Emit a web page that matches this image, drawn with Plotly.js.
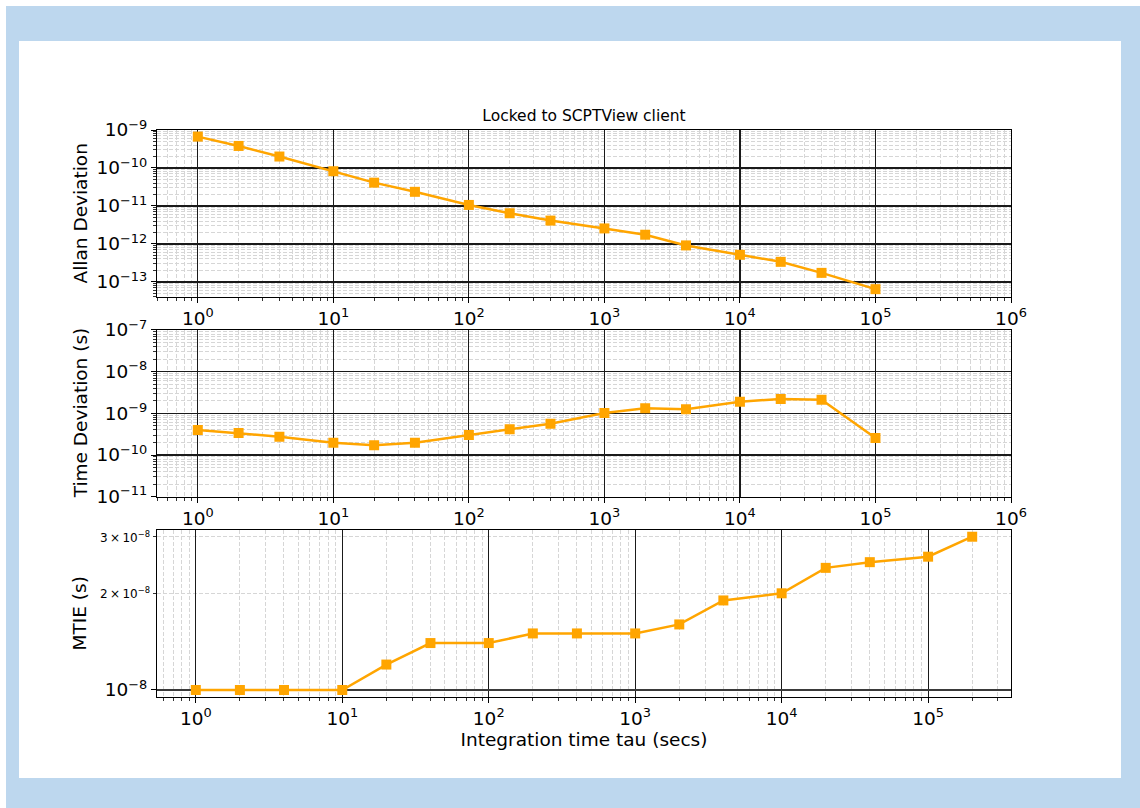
<!DOCTYPE html>
<html>
<head>
<meta charset="utf-8">
<script src="https://cdn.plot.ly/plotly-3.0.1.min.js"></script>
<style>
  html, body { margin: 0; padding: 0; background: #ffffff; width: 1140px; height: 808px; overflow: hidden; }
  #frame { position: absolute; left: 6px; top: 6px; width: 1134px; height: 802px; background: #bdd7ee; }
  #card { position: absolute; left: 19px; top: 41px; width: 1102px; height: 737px; background: #ffffff; }
  #chart { position: absolute; left: 0; top: 0; width: 1140px; height: 808px; }
</style>
</head>
<body>
<div id="frame"></div>
<div id="card"></div>
<div id="chart"></div>
<script>
// ---- data ----
const tau = [1, 2, 4, 10, 20, 40, 100, 200, 400, 1000, 2000, 4000, 10000, 20000, 40000, 100000];
const adev = [6.7e-10, 3.8e-10, 2.0e-10, 8.2e-11, 4.1e-11, 2.35e-11, 1.06e-11, 6.4e-12, 4.1e-12, 2.55e-12, 1.74e-12, 9.1e-13, 5.15e-13, 3.36e-13, 1.72e-13, 6.4e-14];
const tdev = [4.0e-10, 3.37e-10, 2.75e-10, 1.98e-10, 1.71e-10, 1.98e-10, 3.0e-10, 4.13e-10, 5.65e-10, 1.02e-9, 1.32e-9, 1.25e-9, 1.9e-9, 2.21e-9, 2.13e-9, 2.56e-10];
const mtieTau = [1, 2, 4, 10, 20, 40, 100, 200, 400, 1000, 2000, 4000, 10000, 20000, 40000, 100000, 200000];
const mtie = [1.0e-8, 1.0e-8, 1.0e-8, 1.0e-8, 1.2e-8, 1.4e-8, 1.4e-8, 1.5e-8, 1.5e-8, 1.5e-8, 1.6e-8, 1.9e-8, 2.0e-8, 2.4e-8, 2.5e-8, 2.6e-8, 3.0e-8];

// tick labels
const xExpTop = [0, 1, 2, 3, 4, 5, 6];
const xExpBottom = [0, 1, 2, 3, 4, 5];
const yExpAdev = [-13, -12, -11, -10, -9];
const yExpTdev = [-11, -10, -9, -8, -7];
const yExpMtie = [-8];
const mtieMinorMantissa = [2, 3];
const mtieMinorExp = -8;

const titleText = 'Locked to SCPTView client';
const yTitles = ['Allan Deviation', 'Time Deviation (s)', 'MTIE (s)'];
const xTitle = 'Integration time tau (secs)';

// ---- helpers ----
const MINUS = '\u2212';
function powLabel(e) { return '10<sup>' + (e < 0 ? MINUS + Math.abs(e) : e) + '</sup>'; }
function decadeVals(exps) { return exps.map(e => Math.pow(10, e)); }
function minorVals(lo, hi) {
  const out = [];
  for (let e = Math.floor(lo) - 1; e <= Math.ceil(hi); e++) {
    for (let d = 2; d <= 9; d++) {
      const v = d * Math.pow(10, e);
      const lv = Math.log10(v);
      if (lv >= lo && lv <= hi) out.push(v);
    }
  }
  return out;
}

const FONT = 'DejaVu Sans, Verdana, sans-serif';
const ORANGE = '#FFA500';
const MAJOR_GRID = '#1a1a1a';
const MINOR_GRID = '#d6d6d6';
const TICK_SIZE = 18.5;
const LABEL_SIZE = 18.5;

const xRangeTop = [Math.log10(0.5), 6];
const xRangeBot = [-0.265, 5.566];
const yRangeAdev = [-13.4, -9.0];
const yRangeTdev = [-11, -7];
const yRangeMtie = [-8.0218, -7.502];
const domAdev = [0.7055, 1];
const domTdev = [0.3533, 0.6473];
const domMtie = [0, 0.2945];

function minorSpec(range) {
  return {
    tickmode: 'array', tickvals: minorVals(range[0], range[1]),
    ticks: 'outside', ticklen: 3, tickwidth: 0.8, tickcolor: '#000',
    showgrid: true, gridcolor: MINOR_GRID, gridwidth: 1, griddash: '4px,2px'
  };
}
function xAxis(range, exps, anchor) {
  return {
    type: 'log', range: range, anchor: anchor,
    tickmode: 'array', tickvals: decadeVals(exps), ticktext: exps.map(powLabel),
    tickfont: { family: FONT, size: TICK_SIZE, color: '#000' },
    ticks: 'outside', ticklen: 5, tickwidth: 1, tickcolor: '#000',
    showline: true, linecolor: '#000', linewidth: 1, mirror: true,
    showgrid: true, gridcolor: MAJOR_GRID, gridwidth: 1.2,
    zeroline: false,
    minor: minorSpec(range)
  };
}
function yAxisLog(range, exps, domain, anchor) {
  return {
    type: 'log', range: range, domain: domain, anchor: anchor,
    tickmode: 'array', tickvals: decadeVals(exps), ticktext: exps.map(powLabel),
    tickfont: { family: FONT, size: TICK_SIZE, color: '#000' },
    ticks: 'outside', ticklen: 5, tickwidth: 1, tickcolor: '#000',
    showline: true, linecolor: '#000', linewidth: 1, mirror: true,
    showgrid: true, gridcolor: MAJOR_GRID, gridwidth: 1.5,
    zeroline: false,
    minor: minorSpec(range)
  };
}

const traceStyle = {
  type: 'scatter', mode: 'lines+markers',
  line: { color: ORANGE, width: 2.5 },
  marker: { symbol: 'square', size: 10, color: ORANGE },
  showlegend: false, hoverinfo: 'x+y'
};

const data = [
  Object.assign({}, traceStyle, { x: tau, y: adev, xaxis: 'x', yaxis: 'y' }),
  Object.assign({}, traceStyle, { x: tau, y: tdev, xaxis: 'x2', yaxis: 'y2' }),
  Object.assign({}, traceStyle, { x: mtieTau, y: mtie, xaxis: 'x3', yaxis: 'y3' })
];

const xBottom = xAxis(xRangeBot, xExpBottom, 'y3');
xBottom.gridwidth = 1;
xBottom.title = { text: xTitle, font: { family: FONT, size: LABEL_SIZE, color: '#000' }, standoff: 4 };

const yMtie = yAxisLog(yRangeMtie, yExpMtie, domMtie, 'x3');
yMtie.gridcolor = '#3a3a3a';
yMtie.gridwidth = 2;
yMtie.minor = {
  tickmode: 'array', tickvals: mtieMinorMantissa.map(m => m * Math.pow(10, mtieMinorExp)),
  ticks: 'outside', ticklen: 3, tickwidth: 0.8, tickcolor: '#000',
  showgrid: true, gridcolor: MINOR_GRID, gridwidth: 1, griddash: '4px,2px'
};

// y-axis titles as annotations (placed left of the tick labels)
const yTitleAnns = [domAdev, domTdev, domMtie].map((d, i) => ({
  text: yTitles[i], textangle: -90, showarrow: false,
  xref: 'paper', yref: 'paper', x: 0, y: (d[0] + d[1]) / 2,
  xanchor: 'center', yanchor: 'middle', xshift: -77,
  font: { family: FONT, size: LABEL_SIZE, color: '#000' }
}));
// labelled minor ticks of the MTIE axis
const mtieMinorAnns = mtieMinorMantissa.map(m => ({
  text: m + '\u2009\u00d7\u200910<sup>' + MINUS + Math.abs(mtieMinorExp) + '</sup>',
  showarrow: false, xref: 'paper', yref: 'y3',
  x: 0, y: Math.log10(m * Math.pow(10, mtieMinorExp)),
  xanchor: 'right', yanchor: 'middle', xshift: -5,
  font: { family: FONT, size: 12, color: '#000' }
}));

const layout = {
  width: 1140, height: 808,
  paper_bgcolor: 'rgba(0,0,0,0)', plot_bgcolor: 'rgba(0,0,0,0)',
  margin: { l: 157, r: 129, t: 130, b: 111, pad: 0 },
  font: { family: FONT, color: '#000' },
  title: { text: titleText, font: { family: FONT, size: 15.5, color: '#000' },
           x: 0.5, xref: 'paper', xanchor: 'center', y: 1 - 116 / 808, yref: 'container', yanchor: 'middle' },
  xaxis: xAxis(xRangeTop, xExpTop, 'y'),
  xaxis2: xAxis(xRangeTop, xExpTop, 'y2'),
  xaxis3: xBottom,
  yaxis: yAxisLog(yRangeAdev, yExpAdev, domAdev, 'x'),
  yaxis2: yAxisLog(yRangeTdev, yExpTdev, domTdev, 'x2'),
  yaxis3: yMtie,
  annotations: yTitleAnns.concat(mtieMinorAnns)
};

Plotly.newPlot('chart', data, layout, { displayModeBar: false, staticPlot: true });
</script>
</body>
</html>
